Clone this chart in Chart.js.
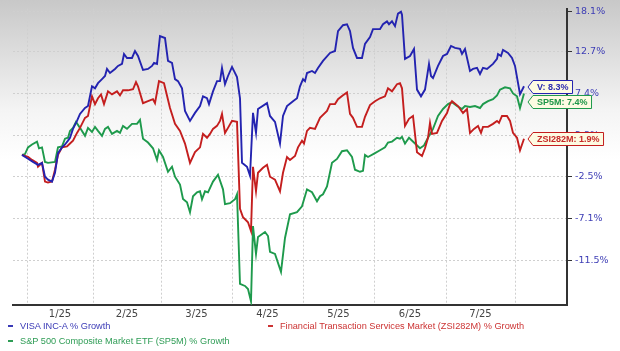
<!DOCTYPE html>
<html>
<head>
<meta charset="utf-8">
<script src="https://cdn.jsdelivr.net/npm/chart.js@4.4.1/dist/chart.umd.min.js"></script>
<style>
  body { margin: 0; }
  #wrap {
    position: relative; width: 620px; height: 351px; overflow: hidden;
    background: linear-gradient(to bottom, #c8c8c8 0px, #f4f4f4 110px, #ffffff 160px);
  }
  canvas { position: absolute; left: 0; top: 0; }
  .leg { position: absolute; font: 9.2px "Liberation Sans", Arial, sans-serif; white-space: nowrap; line-height: 12px; }
  .leg i { position: absolute; left: -12px; top: 5px; width: 5px; height: 2px; }
</style>
</head>
<body>
<div id="wrap">
  <canvas id="grafico" width="620" height="351"></canvas>
  <div class="leg" style="left:20px;top:320px;color:#3a3ab6"><i style="background:#3a3ab6"></i>VISA INC-A % Growth</div>
  <div class="leg" style="left:280px;top:320px;color:#cc3333"><i style="background:#cc3333"></i>Financial Transaction Services Market (ZSI282M) % Growth</div>
  <div class="leg" style="left:20px;top:335px;color:#2e9c55"><i style="background:#2e9c55"></i>S&amp;P 500 Composite Market ETF (SP5M) % Growth</div>
</div>
<script>
// trading-day index, % growth
const visa = [[0,0],[1.5,-0.45],[2.75,-0.81],[4,-1.15],[5,-0.92],[5.75,-2.5],[6.5,-2.83],[7.5,-3.05],[8.25,-2.05],[9,0.21],[10,0.88],[10.75,1.22],[11.5,1.67],[12,2.01],[12.75,3.07],[13.75,4.03],[14.5,4.88],[15.75,5.6],[16.5,5.84],[17.5,8.3],[18.25,8.04],[19,8.69],[20,9.2],[20.75,9.6],[21.25,10.5],[22,9.98],[23.25,10.5],[24,10.89],[25,11.15],[25.5,12.44],[26.25,11.92],[27.5,11.92],[28.25,12.83],[29,12.18],[30.25,10.37],[31.5,10.5],[32.5,10.89],[33,11.28],[33.75,11.15],[34.5,14.81],[35.75,14.54],[36.5,11.54],[37.5,11.28],[38.25,9.2],[39,8.95],[40,8.04],[40.75,5.24],[42,4.03],[43.25,5.0],[44.5,5.84],[45.25,7.04],[46.25,6.8],[46.75,6.08],[47.75,7.66],[48.75,8.95],[49.5,8.95],[50,10.63],[50.75,8.56],[51.5,9.6],[52.5,10.76],[53.75,9.47],[54.5,6.8],[55,-0.92],[56.25,-1.37],[57,-2.39],[57.75,5.0],[58.5,2.59],[59,5.48],[61.25,6.2],[62,4.63],[63.25,3.91],[64.5,1.33],[65.25,4.63],[66.25,5.84],[67.75,6.44],[68.75,6.8],[69.5,8.3],[70.25,9.2],[70.75,8.95],[71.25,9.98],[72.5,10.24],[73.25,9.98],[74,10.63],[75.25,11.54],[77,12.57],[78.25,12.83],[79,15.47],[80.25,16.26],[81.25,16.39],[82,15.47],[82.75,13.23],[83.75,11.92],[85,11.92],[85.75,13.76],[87,14.68],[87.75,15.73],[89.5,15.73],[90.25,16.39],[91.25,16.78],[91.75,16.39],[92.5,16.78],[93.25,16.13],[94,17.84],[94.75,18.1],[95,17.7],[95.75,11.8],[97,12.18],[98,13.1],[98.75,7.88],[99.75,7.04],[100.75,7.88],[101.75,11.15],[102.25,9.6],[102.75,9.34],[104,10.89],[105.25,12.18],[106.25,12.44],[107.25,13.49],[108.25,13.23],[109.5,13.1],[110,12.44],[110.75,13.1],[112,10.24],[112.75,10.5],[113.75,10.63],[114.5,9.85],[115.25,10.63],[116.25,10.5],[117.75,11.15],[118.75,11.8],[119,12.44],[119.75,12.18],[120.25,12.96],[121.5,12.57],[122.5,11.92],[123.25,10.89],[124.5,7.3],[125.5,8.3]];
const zsi = [[0,0],[1.5,-0.23],[2.5,-0.58],[3.75,-0.92],[4,-1.37],[5,-0.92],[5.75,-3.05],[6.5,-3.16],[7.5,-3.05],[8.25,-1.71],[9,0],[10,0.88],[11.25,0.99],[12,1.33],[12.75,1.67],[13.75,2.59],[14.5,3.19],[15.75,4.4],[16.5,4.63],[17.5,7.04],[18.25,6.08],[19,6.8],[19.75,7.28],[20.5,6.08],[21.5,7.66],[22.5,7.28],[23.75,7.66],[24.5,7.16],[25.25,7.79],[26.5,7.79],[27.75,7.92],[28.5,8.82],[29,8.3],[30.25,6.2],[31.5,6.44],[32.75,6.68],[33.25,6.2],[34.25,8.95],[35.5,8.69],[37,5.6],[38.25,3.67],[39.5,2.83],[40.75,1.33],[42,-0.92],[43.25,0.32],[44.5,0.88],[45.25,2.47],[46.25,2.01],[47,2.47],[47.75,3.07],[48.75,3.43],[49.5,4.03],[50,4.88],[50.75,2.59],[51.5,3.19],[52.5,4.03],[53.75,3.91],[54.5,-6.07],[55.25,-6.99],[56.5,-7.52],[57.25,-8.46],[57.75,-1.37],[58.5,-4.14],[59,-2.05],[60.25,-1.49],[61.25,-1.15],[62,-2.5],[63.25,-2.83],[64.5,-4.14],[65.25,-2.05],[66.25,-0.24],[67,-0.58],[68.25,-0.13],[69,0.88],[70,1.67],[70.5,1.33],[71.25,2.83],[72,3.19],[73.25,3.07],[74.5,4.4],[76.25,5.24],[77,6.08],[78.25,6.08],[79,6.68],[80.25,7.16],[81.25,7.53],[82,4.88],[82.75,4.4],[83.75,3.31],[85,3.31],[85.75,4.52],[87,5.96],[88.25,6.44],[89.5,6.8],[90.75,7.04],[91.5,8.04],[92.5,7.66],[93.75,8.56],[94.5,8.69],[95,8.04],[95.75,3.43],[96.75,4.28],[97.75,4.63],[98.75,0.32],[100,-0.13],[100.75,0.77],[101.5,2.01],[102,3.79],[102.5,2.47],[103.75,2.59],[105,4.03],[106.25,4.99],[107,6.08],[107.5,6.44],[109,5.84],[110.25,4.99],[111.25,5.48],[112,2.59],[113,3.07],[114,3.43],[114.75,2.59],[115.25,3.31],[116.5,3.31],[117.75,3.67],[118.75,4.03],[119.25,3.79],[120,4.63],[121.25,4.63],[122,4.03],[122.75,2.59],[123.75,2.01],[124.5,0.54],[125.5,1.9]];
const sp5m = [[0,0],[0.75,0.1],[1.5,0.88],[2.5,1.22],[3.75,1.56],[4.25,0.77],[5,0.88],[5.75,-0.81],[6.5,-0.92],[8.25,-0.81],[9,0.88],[10,0.99],[10.75,1.9],[11.5,2.01],[12,2.83],[12.75,3.19],[13.5,3.91],[14.5,3.19],[15.75,2.24],[16.5,3.19],[17.5,2.71],[18.25,3.31],[19,2.83],[20,2.24],[20.75,3.07],[21.5,3.31],[22.5,2.47],[23.75,2.83],[24.5,2.59],[25.25,3.43],[26.25,3.07],[27.5,3.67],[28.75,3.67],[29.5,4.16],[30.25,1.9],[31.5,1.45],[32.75,0.77],[33.75,-0.58],[34.25,0.54],[35.25,-0.24],[36.5,-1.94],[37.5,-1.37],[38.25,-2.5],[39.5,-3.38],[40.25,-4.99],[41.25,-5.35],[42,-6.44],[42.75,-4.69],[43.75,-4.25],[44.5,-4.14],[45,-5.02],[45.75,-4.14],[46.5,-4.25],[47.75,-3.05],[49,-2.27],[50.25,-3.92],[50.75,-5.57],[52,-5.46],[53.25,-5.02],[53.75,-4.47],[54.5,-13.92],[55.75,-14.12],[56.5,-14.43],[57.25,-15.64],[57.75,-7.94],[58.5,-10.87],[59,-9.09],[60.75,-8.57],[61.5,-8.99],[62,-10.66],[63.25,-10.87],[64.75,-12.71],[65.75,-9.2],[67,-6.66],[68.75,-6.44],[70,-5.79],[71.25,-3.92],[72.5,-4.25],[73.75,-5.24],[74.5,-4.69],[75.25,-4.47],[76.25,-3.6],[77.5,-0.92],[78.75,-0.47],[80,0.43],[81.25,0.54],[82.5,-0.24],[83.25,-1.71],[84.5,-1.94],[85.25,-1.83],[85.75,0],[86.5,-0.24],[88.25,0.21],[89.5,0.54],[90.75,0.88],[91.5,1.45],[92.5,1.56],[93.75,2.01],[94.5,1.9],[95,2.12],[95.75,1.33],[96.75,2.01],[98.25,1.33],[99.5,0.77],[100.5,1.11],[101.5,2.01],[102.75,3.07],[104,4.63],[105.25,5.48],[106.5,6.08],[107.5,6.32],[108.75,5.84],[110,5.48],[110.75,5.84],[112,5.72],[113.25,5.84],[114.5,5.6],[115.25,6.08],[116.5,6.44],[117.75,6.68],[118.75,7.16],[119.5,7.88],[120.75,8.17],[122,8.04],[122.75,7.4],[123.75,7.04],[124.5,5.6],[125.5,7.4]];

const monthStarts = [1.25, 17.75, 34.75, 52.5, 70.25, 88, 106, 123.25];
const monthLabels = ["1/25", "2/25", "3/25", "4/25", "5/25", "6/25", "7/25"];
const yTicks = [18.1, 12.7, 7.4, 2.3, -2.5, -7.1, -11.5];

const series = [
  { label: "VISA INC-A % Growth", tag: "V", data: visa, color: "#2323b0", text: "#2b2bb0" },
  { label: "Financial Transaction Services Market (ZSI282M) % Growth", tag: "ZSI282M", data: zsi, color: "#c41e1e", text: "#c62828" },
  { label: "S&P 500 Composite Market ETF (SP5M) % Growth", tag: "SP5M", data: sp5m, color: "#1e9a4c", text: "#1e9648" },
];

const toRatio = (p) => 1 + p / 100;

// etiquetas al final de cada línea
const endLabels = {
  id: "endLabels",
  afterDraw(chart) {
    const ctx = chart.ctx;
    ctx.save();
    ctx.font = 'bold 9px "Liberation Sans", Arial, sans-serif';
    const items = chart.data.datasets.map((ds, i) => {
      const pts = chart.getDatasetMeta(i).data;
      const p = pts[pts.length - 1];
      const last = ds.raw[ds.raw.length - 1][1];
      return { x: p.x, y: p.y, ds, text: `${ds.tag}: ${last.toFixed(1)}%` };
    }).sort((a, b) => a.y - b.y);
    let prev = -Infinity;
    items.forEach((it) => {
      it.cy = Math.max(it.y, prev + 15);
      prev = it.cy;
    });
    items.forEach((it) => {
      const tip = it.x + 4;
      const rx = tip + 5;
      const w = ctx.measureText(it.text).width + 8;
      const h = 13;
      const top = Math.round(it.cy - h / 2) + 0.5;
      ctx.beginPath();
      ctx.moveTo(tip, top + h / 2);
      ctx.lineTo(rx, top);
      ctx.lineTo(rx + w, top);
      ctx.lineTo(rx + w, top + h);
      ctx.lineTo(rx, top + h);
      ctx.closePath();
      ctx.fillStyle = "#fdfbe2";
      ctx.fill();
      ctx.lineWidth = 1;
      ctx.strokeStyle = it.ds.borderColor;
      ctx.stroke();
      ctx.fillStyle = it.ds.textColor;
      ctx.textBaseline = "middle";
      ctx.fillText(it.text, rx + 4, top + h / 2 + 0.5);
    });
    ctx.restore();
  },
};

new Chart(document.getElementById("grafico"), {
  type: "line",
  data: {
    datasets: series.map((s) => ({
      label: s.label,
      tag: s.tag,
      raw: s.data,
      textColor: s.text,
      data: s.data.map(([d, p]) => ({ x: d, y: toRatio(p) })),
      borderColor: s.color,
      borderWidth: 1.9,
      pointRadius: 0,
      tension: 0,
      fill: false,
    })),
  },
  options: {
    responsive: false,
    animation: false,
    devicePixelRatio: 1,
    layout: { padding: { left: 13, top: 7, right: 0, bottom: 0 } },
    plugins: { legend: { display: false }, tooltip: { enabled: false } },
    scales: {
      x: {
        type: "linear",
        position: "bottom",
        weight: 0,
        min: -2.25,
        max: 136.25,
        afterBuildTicks: (scale) => {
          scale.ticks = monthStarts.map((v) => ({ value: v }));
        },
        afterFit: (scale) => { scale.height = 0; },
        ticks: { display: false },
        grid: { color: "#cfcfcf", drawTicks: false },
        border: { color: "#333333", width: 2, dash: [2, 2] },
      },
      xl: {
        type: "linear",
        position: "bottom",
        weight: 1,
        min: -2.25,
        max: 136.25,
        afterBuildTicks: (scale) => {
          scale.ticks = monthLabels.map((_, i) => ({ value: (monthStarts[i] + monthStarts[i + 1]) / 2 }));
        },
        afterFit: (scale) => { scale.height = 46; },
        ticks: {
          autoSkip: false,
          maxRotation: 0,
          padding: 3,
          color: "#444444",
          font: { family: '"DejaVu Sans", Verdana, sans-serif', size: 10 },
          callback: (v, i) => monthLabels[i],
        },
        grid: { display: false, drawTicks: false, tickLength: 0 },
        border: { display: false },
      },
      y: {
        type: "logarithmic",
        position: "right",
        min: 0.8406,
        max: 1.1851,
        afterBuildTicks: (scale) => {
          scale.ticks = yTicks.map((p) => ({ value: toRatio(p) }));
        },
        afterFit: (scale) => { scale.width = 53; },
        ticks: {
          padding: 3,
          color: "#3d3db5",
          font: { family: '"DejaVu Sans", Verdana, sans-serif', size: 9.5 },
          callback: (v) => ((v - 1) * 100).toFixed(1) + "%",
        },
        grid: { color: "#cfcfcf", tickLength: 5, tickColor: "#333333", tickWidth: 1, tickBorderDash: [] },
        border: { color: "#333333", width: 2, dash: [2, 2] },
      },
    },
  },
  plugins: [endLabels],
});
</script>
</body>
</html>
